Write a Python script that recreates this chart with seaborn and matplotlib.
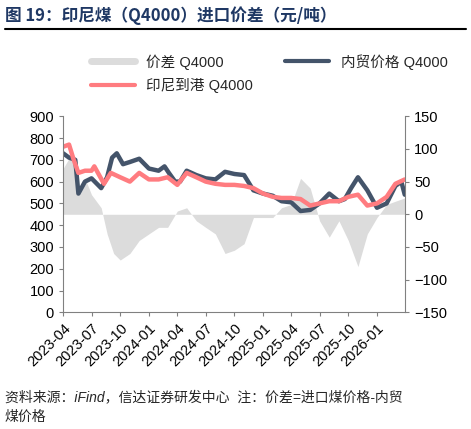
import matplotlib
matplotlib.use("Agg")
import matplotlib.pyplot as plt
import seaborn as sns
import pandas as pd
import numpy as np
from matplotlib.lines import Line2D

sns.set_style("white")
plt.rcParams['font.family'] = ['Liberation Sans', 'Noto Sans CJK SC', 'DejaVu Sans']

blue_dates = ["2023-04-01","2023-04-20","2023-05-10","2023-05-20","2023-06-10","2023-07-01","2023-08-01","2023-08-20",
              "2023-09-05","2023-09-20","2023-10-10","2023-11-01","2023-12-01","2024-01-01","2024-02-01","2024-02-20",
              "2024-03-05","2024-03-25","2024-04-10","2024-05-01","2024-06-01","2024-07-01","2024-08-01","2024-09-01",
              "2024-10-01","2024-11-01","2024-12-01","2025-01-01","2025-02-01","2025-03-01","2025-04-01","2025-05-01",
              "2025-06-01","2025-07-01","2025-08-01","2025-09-01","2025-09-20","2025-10-10","2025-11-01","2025-12-01",
              "2026-01-01","2026-02-01","2026-03-01","2026-03-20","2026-03-31"]
blue_vals = [730,710,700,545,600,615,570,620,710,730,680,690,705,660,650,670,640,600,600,650,630,615,610,645,
             635,630,560,545,535,510,505,465,470,500,545,510,520,570,620,560,480,500,580,600,540]

red_dates = ["2023-04-01","2023-04-20","2023-05-05","2023-05-20","2023-06-10","2023-07-01","2023-07-10","2023-08-10",
             "2023-09-01","2023-10-01","2023-11-01","2023-12-01","2024-01-01","2024-02-01","2024-03-01","2024-04-01",
             "2024-05-01","2024-06-01","2024-07-01","2024-08-01","2024-09-01","2024-10-01","2024-11-01","2024-12-01",
             "2025-01-01","2025-02-01","2025-03-01","2025-04-01","2025-05-01","2025-06-01","2025-07-01","2025-08-01",
             "2025-09-01","2025-10-01","2025-11-01","2025-12-01","2026-01-01","2026-02-01","2026-03-01","2026-03-31"]
red_vals = [760,770,700,640,650,650,670,590,640,620,600,640,610,610,620,585,640,620,600,590,585,585,580,570,
            545,530,525,525,520,490,500,510,510,530,540,490,500,530,590,610]

gap_dates = ["2023-04-01","2023-05-01","2023-05-20","2023-06-10","2023-07-01","2023-08-01","2023-08-20","2023-09-10",
             "2023-10-01","2023-11-01","2023-12-01","2024-01-01","2024-02-01","2024-03-01","2024-04-01","2024-05-01",
             "2024-06-01","2024-07-01","2024-08-01","2024-09-01","2024-10-01","2024-11-01","2024-12-01","2025-01-01",
             "2025-02-01","2025-03-01","2025-04-01","2025-05-01","2025-06-01","2025-07-01","2025-08-01","2025-09-01",
             "2025-10-01","2025-11-01","2025-12-01","2026-01-01","2026-02-01","2026-03-01","2026-03-31"]
gap_vals = [70,95,40,55,30,10,-30,-60,-70,-60,-40,-30,-20,-20,5,10,-10,-20,-30,-60,-55,-45,-5,-5,
            -5,10,15,55,40,-10,-35,-10,-40,-80,-30,-5,15,20,25]

tick_labels = ["2023-04","2023-07","2023-10","2024-01","2024-04","2024-07","2024-10","2025-01",
               "2025-04","2025-07","2025-10","2026-01"]

fig = plt.figure(figsize=(4.71, 4.29), dpi=100)
ax = fig.add_axes([0.134, 0.272, 0.726, 0.457])
ax2 = ax.twinx()
ax.set_zorder(2); ax.patch.set_visible(False)

gd = pd.to_datetime(gap_dates)
ax2.fill_between(gd, 0, gap_vals, color="#DCDCDC", lw=0)
ax2.set_ylim(-150, 150)
ax2.set_yticks(np.arange(-150, 151, 50))

sns.lineplot(x=pd.to_datetime(blue_dates), y=blue_vals, ax=ax, color="#44546A", lw=3.2)
sns.lineplot(x=pd.to_datetime(red_dates), y=red_vals, ax=ax, color="#FF7C80", lw=3.2)
ax.set_ylim(0, 900)
ax.set_yticks(np.arange(0, 901, 100))
ax.set_xlim(pd.Timestamp("2023-04-01"), pd.Timestamp("2026-04-01"))
ax.set_xticks(pd.to_datetime(tick_labels))
ax.set_xticklabels(tick_labels, rotation=45, ha="right", rotation_mode="anchor")

for a in (ax, ax2):
    for s in a.spines.values():
        s.set_visible(False)
    a.tick_params(labelsize=10.5, colors="black", length=3, direction="out")
ax.spines['left'].set_visible(True); ax.spines['left'].set_color("#808080")
ax.spines['bottom'].set_visible(True); ax.spines['bottom'].set_color("#808080")
ax2.spines['right'].set_visible(True); ax2.spines['right'].set_color("#808080")
ax.tick_params(axis='both', left=True, bottom=True, color="#808080")
ax2.tick_params(axis='y', right=True, color="#808080")
ax.set_xlabel(""); ax.set_ylabel("")

fig.text(0.01, 0.963, "图 19：印尼煤（Q4000）进口价差（元/吨）", fontsize=12, color="#1F3864",
         fontweight="bold", va="center", family=['Noto Sans CJK SC', 'DejaVu Sans'])
fig.lines.append(plt.Line2D([0.01, 0.99], [0.932, 0.932], color="black", lw=1.5, transform=fig.transFigure))

h = [Line2D([], [], color="#DCDCDC", lw=5), Line2D([], [], color="#FF7C80", lw=3),
     Line2D([], [], color="#44546A", lw=3)]
fig.legend(h, ["价差 Q4000", "印尼到港 Q4000", "内贸价格 Q4000"], loc="upper left",
           bbox_to_anchor=(0.165, 0.905), ncol=2, frameon=False, fontsize=10.5,
           handlelength=3, columnspacing=2.2, labelspacing=0.6)

fig.text(0.01, 0.075, "资料来源：iFind，信达证券研发中心  注：价差=进口煤价格-内贸", fontsize=10, style="italic", va="center")
fig.text(0.01, 0.028, "煤价格", fontsize=10, style="italic", va="center")

fig.savefig("out.png", dpi=100)
